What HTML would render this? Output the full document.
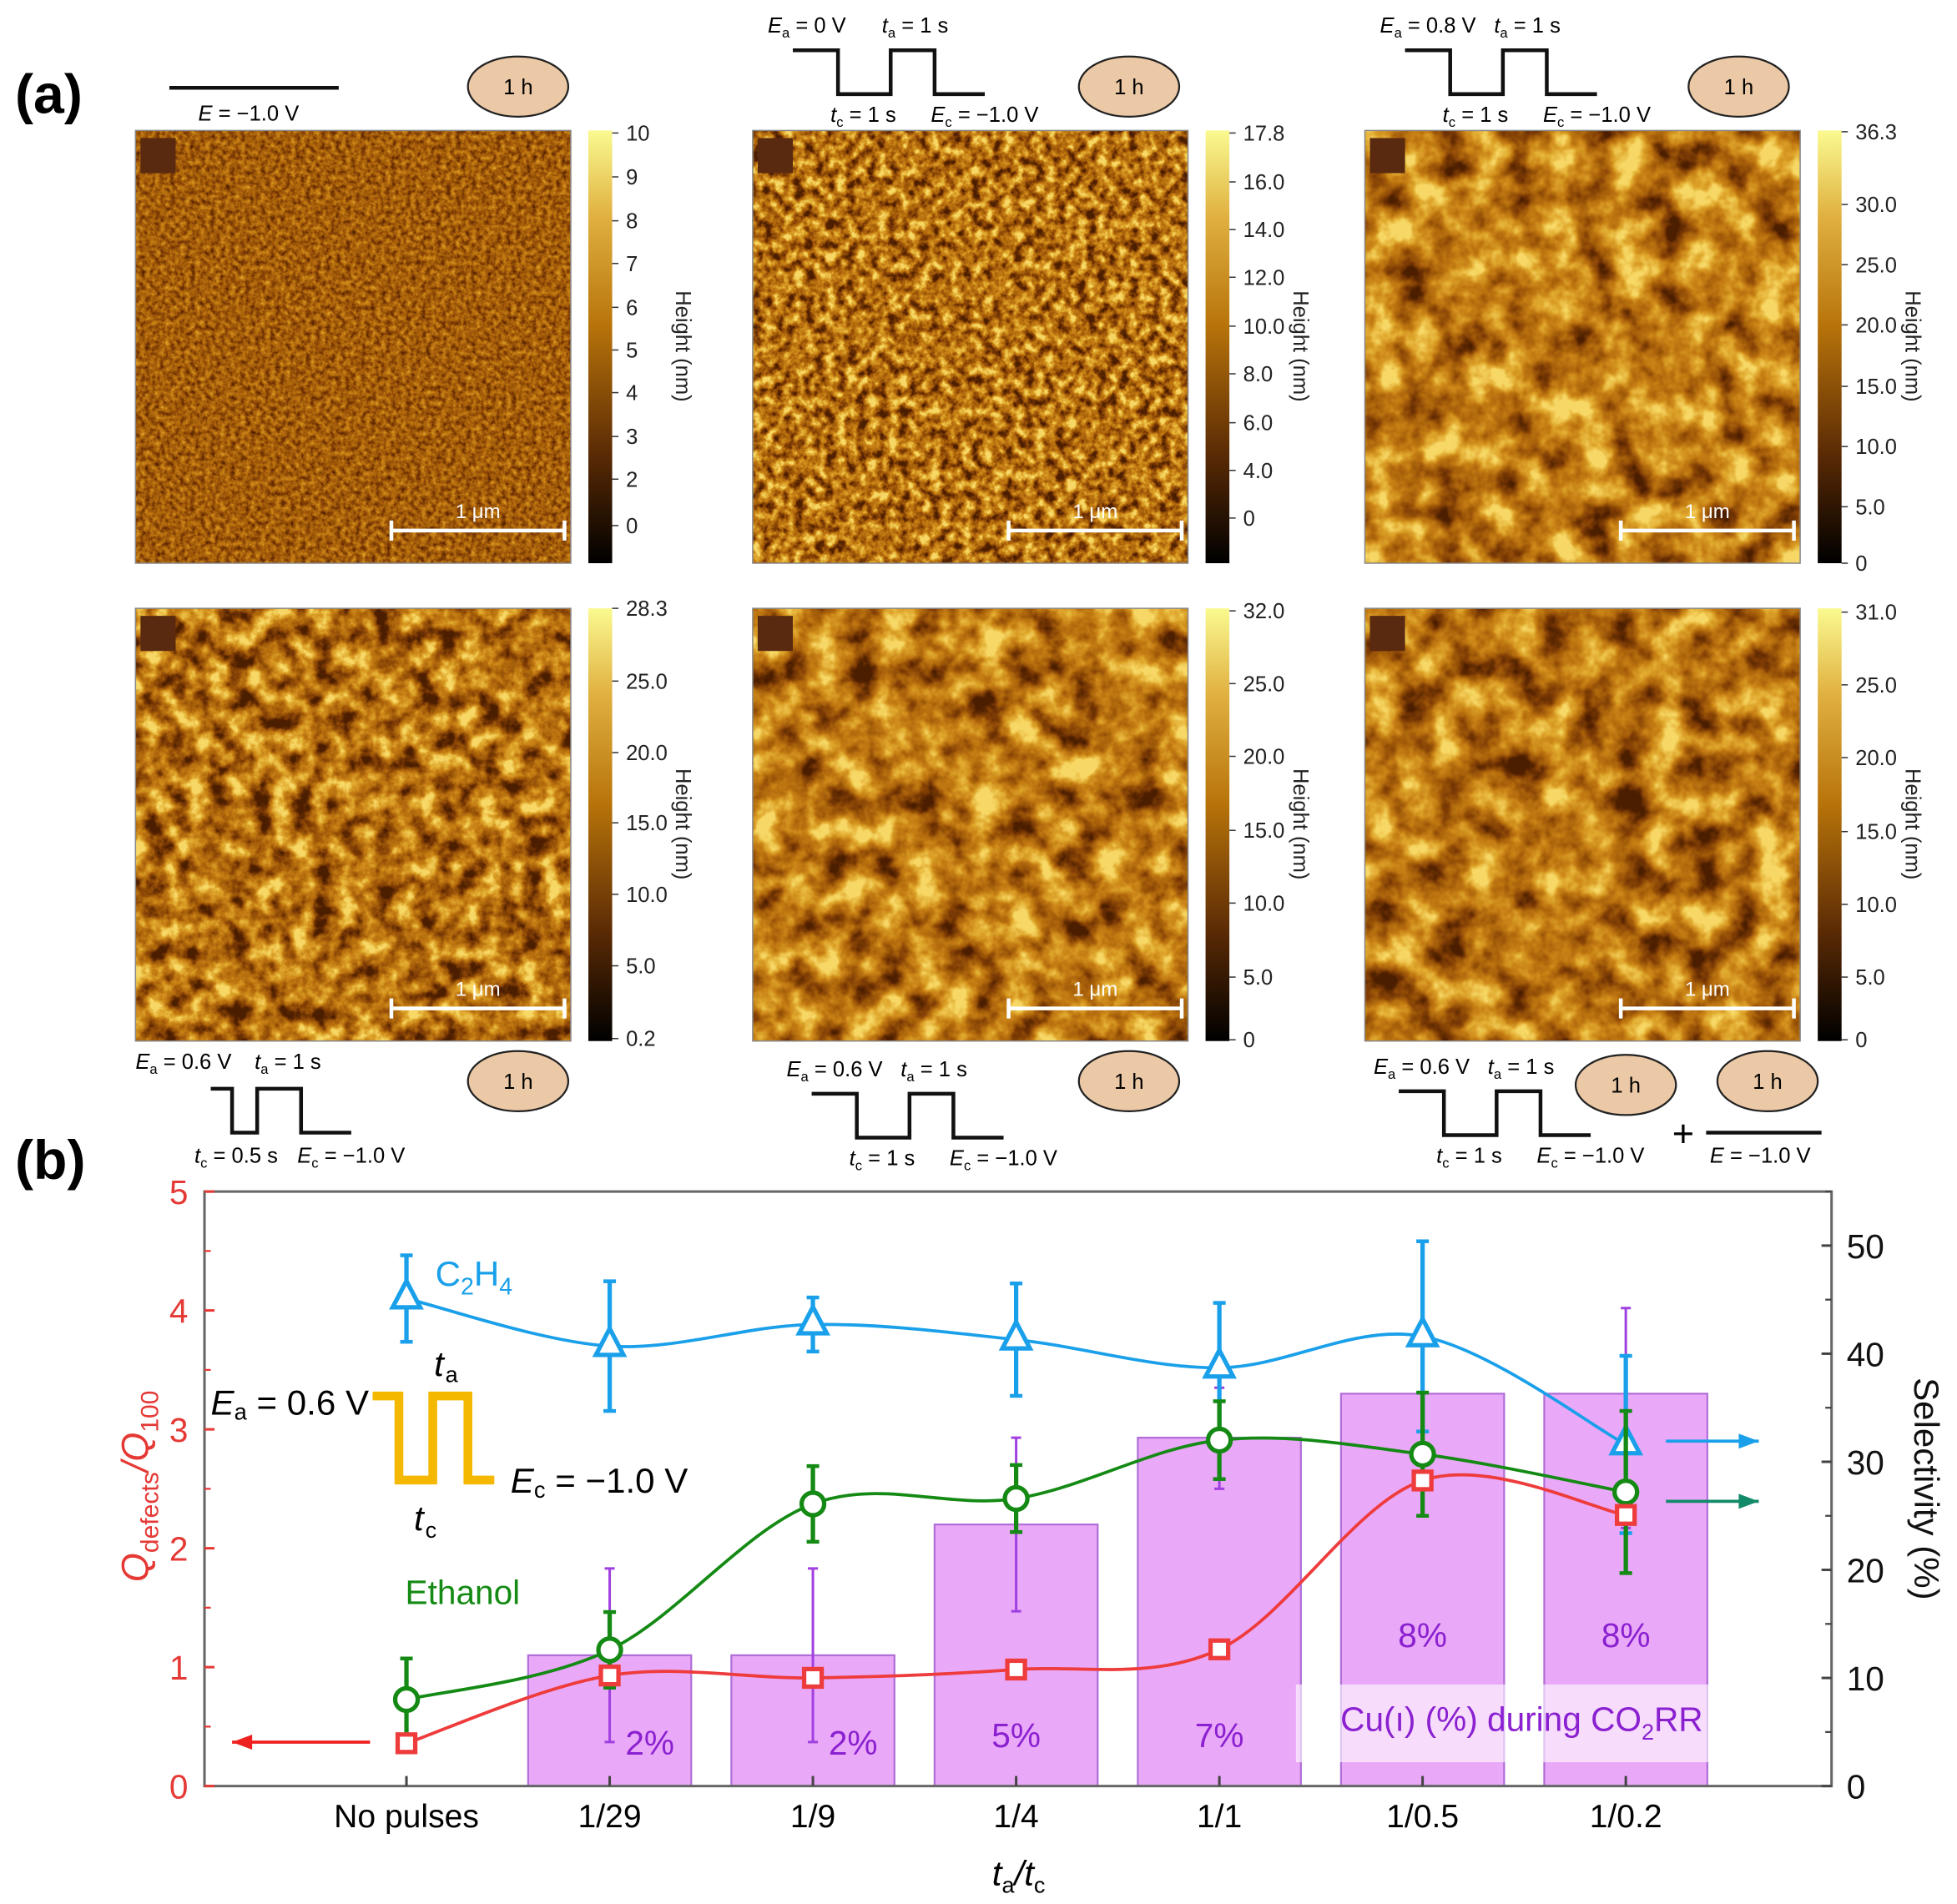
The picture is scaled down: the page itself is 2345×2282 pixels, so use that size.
<!DOCTYPE html>
<html><head><meta charset="utf-8"><style>
html,body{margin:0;padding:0;background:#fff;}
svg{display:block;font-family:"Liberation Sans",sans-serif;}
</style></head><body>
<svg id="fig" width="2345" height="2282" viewBox="0 0 1560 1518" xmlns="http://www.w3.org/2000/svg">
<defs>
<linearGradient id="cbar" x1="0" y1="1" x2="0" y2="0">
<stop offset="0" stop-color="#000"/><stop offset="0.25" stop-color="#5a2a05"/><stop offset="0.55" stop-color="#b8740a"/><stop offset="0.8" stop-color="#e0b040"/><stop offset="1" stop-color="#fafa90"/>
</linearGradient>
</defs>
<text x="12" y="90" font-size="44" font-weight="bold">(a)</text>
<text x="12" y="940" font-size="44" font-weight="bold">(b)</text>
<g id="afm"></g>
<g id="chart"></g>
</svg>
<script>
const NS='http://www.w3.org/2000/svg';
function mk(p,tag,attrs,txt){const e=document.createElementNS(NS,tag);for(const k in attrs)e.setAttribute(k,attrs[k]);if(txt!==undefined)e.textContent=txt;p.appendChild(e);return e;}
const afm=document.getElementById('afm');
const defs=document.querySelector('defs');

// ---- panel (a) AFM images ----
const imgX=[108,600,1088];
const imgY=[104,485];
const freqs=[0.25,0.12,0.035,0.06,0.04,0.035];
const tones=[[1.0,-0.12],[2.0,-0.5],[1.9,-0.38],[2.0,-0.5],[1.9,-0.4],[1.8,-0.38]];
const cbTicks=[
 [["10",106],["9",141],["8",176],["7",210],["6",245],["5",279],["4",313],["3",348],["2",382],["0",419]],
 [["17.8",106],["16.0",145],["14.0",183],["12.0",221],["10.0",260],["8.0",298],["6.0",337],["4.0",375],["0",413]],
 [["36.3",105],["30.0",163],["25.0",211],["20.0",259],["15.0",308],["10.0",356],["5.0",404],["0",449]],
 [["28.3",485],["25.0",543],["20.0",600],["15.0",656],["10.0",713],["5.0",770],["0.2",828]],
 [["32.0",487],["25.0",545],["20.0",603],["15.0",662],["10.0",720],["5.0",779],["0",829]],
 [["31.0",488],["25.0",546],["20.0",604],["15.0",663],["10.0",721],["5.0",779],["0",829]]];
for(let i=0;i<6;i++){
 const x=imgX[i%3], y=imgY[Math.floor(i/3)], w=347, h=345;
 const f=mk(defs,'filter',{id:'tex'+i,filterUnits:'userSpaceOnUse',x:x,y:y,width:w,height:h,'color-interpolation-filters':'sRGB'});
 mk(f,'feTurbulence',{type:'fractalNoise',baseFrequency:freqs[i],numOctaves:4,seed:i*7+3});
 const a=tones[i][0],b=tones[i][1];
 mk(f,'feColorMatrix',{type:'matrix',values:`${a} 0 0 0 ${b} ${a} 0 0 0 ${b} ${a} 0 0 0 ${b} 0 0 0 0 1`});
 const ct=mk(f,'feComponentTransfer',{});
 mk(ct,'feFuncR',{type:'table',tableValues:'0.3 0.5 0.66 0.78 0.88 0.97'});
 mk(ct,'feFuncG',{type:'table',tableValues:'0.12 0.24 0.38 0.5 0.66 0.85'});
 mk(ct,'feFuncB',{type:'table',tableValues:'0.0 0.02 0.04 0.08 0.18 0.4'});
 const g=mk(afm,'g',{});
 
 
 mk(g,'rect',{x:x,y:y,width:w,height:h,fill:'#a0640c',filter:`url(#tex${i})`});
 mk(g,'rect',{x:x,y:y,width:w,height:h,fill:'none',stroke:'#888','stroke-width':1});
 mk(g,'rect',{x:x+4,y:y+6,width:28,height:28,fill:'#5a2a10'});
 const sb=mk(g,'g',{});
 
 
 const sx=x+204,sy=y+319;
 mk(sb,'line',{x1:sx,y1:sy,x2:sx+138,y2:sy,stroke:'#fff','stroke-width':3});
 mk(sb,'line',{x1:sx,y1:sy-8,x2:sx,y2:sy+8,stroke:'#fff','stroke-width':3});
 mk(sb,'line',{x1:sx+138,y1:sy-8,x2:sx+138,y2:sy+8,stroke:'#fff','stroke-width':3});
 mk(sb,'text',{x:sx+69,y:sy-10,'font-size':16,fill:'#fff','text-anchor':'middle'},'1 μm');
 const cb=mk(afm,'g',{});
 
 
 const cx=x+361;
 mk(cb,'rect',{x:cx,y:y,width:19,height:h,fill:'url(#cbar)'});
 cbTicks[i].forEach(t=>{mk(cb,'line',{x1:cx+19,y1:t[1],x2:cx+24,y2:t[1],stroke:'#333'});mk(cb,'text',{x:cx+30,y:t[1]+6,'font-size':17,fill:'#222'},t[0]);});
 mk(cb,'text',{x:0,y:0,'font-size':17,fill:'#222','text-anchor':'middle',transform:`translate(${cx+70},${y+172}) rotate(90)`},'Height (nm)');
}
[[413,69],[900,69],[1386,69],[413,862],[900,862],[1296,865],[1409,862]].forEach(o=>{
 const g=mk(afm,'g',{});
 
 
 mk(g,'ellipse',{cx:o[0],cy:o[1],rx:40,ry:24,fill:'#ecc9a6',stroke:'#222','stroke-width':1.5});
 mk(g,'text',{x:o[0],y:o[1]+6,'font-size':17,'text-anchor':'middle'},'1 h');
});
function sub(p,x,y,main,s,rest,size){const t=mk(p,'text',{x:x,y:y,'font-size':size||17});mk(t,'tspan',{'font-style':'italic'},main);if(s){mk(t,'tspan',{'font-size':(size||17)*0.65,dy:4},s);mk(t,'tspan',{dy:-4},rest);}else mk(t,'tspan',{},rest);return t;}
function wave(p,pts){mk(p,'polyline',{points:pts,fill:'none',stroke:'#111','stroke-width':3});}
const wv=mk(afm,'g',{});


mk(wv,'line',{x1:135,y1:70,x2:270,y2:70,stroke:'#111','stroke-width':3});
sub(wv,158,96,'E','',' = −1.0 V');
function pulse(ox,oy,ea,tc){
 sub(wv,ox-20,oy-14,'E','a',' = '+ea);
 sub(wv,ox+71,oy-14,'t','a',' = 1 s');
 wave(wv,`${ox},${oy} ${ox+36},${oy} ${ox+36},${oy+35} ${ox+78},${oy+35} ${ox+78},${oy} ${ox+113},${oy} ${ox+113},${oy+35} ${ox+153},${oy+35}`);
 sub(wv,ox+30,oy+57,'t','c',' = '+tc);
 sub(wv,ox+110,oy+57,'E','c',' = −1.0 V');
}
pulse(632,40,'0 V','1 s');
pulse(1120,40,'0.8 V','1 s');
pulse(647,872,'0.6 V','1 s');
pulse(1115,870,'0.6 V','1 s');
sub(wv,108,852,'E','a',' = 0.6 V');
sub(wv,203,852,'t','a',' = 1 s');
wave(wv,'168,868 185,868 185,903 205,903 205,868 240,868 240,903 280,903');
sub(wv,155,927,'t','c',' = 0.5 s');
sub(wv,237,927,'E','c',' = −1.0 V');
mk(wv,'text',{x:1333,y:914,'font-size':30},'+');
mk(wv,'line',{x1:1360,y1:903,x2:1452,y2:903,stroke:'#111','stroke-width':3});
sub(wv,1363,927,'E','',' = −1.0 V');

// ---- panel (b) chart ----
const categories=["No pulses","1/29","1/9","1/4","1/1","1/0.5","1/0.2"];
const barVals=[null,1.1,1.1,2.2,2.93,3.3,3.3];
const barLabels=[null,"2%","2%","5%","7%","8%","8%"];
const barErrLo=[null,0.37,0.37,1.47,2.5,null,2.17];
const barErrHi=[null,1.83,1.83,2.93,3.35,null,4.02];
const qVals=[0.36,0.93,0.91,0.98,1.15,2.57,2.28];
const ethVals=[8.0,12.6,26.1,26.6,32.0,30.7,27.2];
const ethErr=[3.8,3.5,3.5,3.1,3.6,5.7,7.5];
const c2h4Vals=[45.1,40.7,42.7,41.3,38.7,41.6,31.6];
const c2h4Err=[4.0,6.0,2.5,5.2,6.0,8.8,8.2];
const leftTicks=[0,1,2,3,4,5];
const rightTicks=[0,10,20,30,40,50];

const PL=163,PR=1460,PT=950,PB=1424;
const yL=v=>PB-(v/5)*(PB-PT);
const yR=v=>PB-(v/55)*(PB-PT);
const xC=i=>324+i*162;
const ch=document.getElementById('chart');
barVals.forEach((v,i)=>{ if(v===null) return;
 const r=mk(ch,'rect',{x:xC(i)-65,y:yL(v),width:130,height:PB-yL(v),fill:'#eaa8f8',stroke:'#b070d8','stroke-width':1.5});
 
 
});
barErrLo.forEach((lo,i)=>{ if(lo===null) return;
 const g=mk(ch,'g',{stroke:'#a040e0','stroke-width':2});
 
 
 mk(g,'line',{x1:xC(i),y1:yL(lo),x2:xC(i),y2:yL(barErrHi[i])});
 mk(g,'line',{x1:xC(i)-4,y1:yL(lo),x2:xC(i)+4,y2:yL(lo)});
 mk(g,'line',{x1:xC(i)-4,y1:yL(barErrHi[i]),x2:xC(i)+4,y2:yL(barErrHi[i])});
});
const cuBox=mk(ch,'rect',{x:1033,y:1343,width:330,height:62,fill:'#fff','fill-opacity':0.6});


const cuT=mk(ch,'text',{x:1213,y:1380,'font-size':27,fill:'#8a20d0','text-anchor':'middle'});


mk(cuT,'tspan',{},'Cu(ı) (%) during CO');mk(cuT,'tspan',{'font-size':18,dy:7},'2');mk(cuT,'tspan',{dy:-7},'RR');
barLabels.forEach((l,i)=>{ if(!l) return;
 const yy = barVals[i]>3 ? 1313 : (i<=2?1399:1393);
 const t=mk(ch,'text',{x:xC(i)+(i<=2?32:0),y:yy,'font-size':27,fill:'#8a20d0','text-anchor':'middle'},l);
 
 
});
const ax=mk(ch,'g',{});


mk(ax,'rect',{x:PL,y:PT,width:PR-PL,height:PB-PT,fill:'none',stroke:'#666','stroke-width':2});
leftTicks.forEach(v=>{mk(ax,'line',{x1:PL,y1:yL(v),x2:PL+8,y2:yL(v),stroke:'#e53935','stroke-width':2});
 mk(ax,'text',{x:150,y:yL(v)+10,'font-size':27,fill:'#e53935','text-anchor':'end'},String(v));
 if(v<5) mk(ax,'line',{x1:PL,y1:yL(v+0.5),x2:PL+5,y2:yL(v+0.5),stroke:'#e53935','stroke-width':1.5});});
rightTicks.forEach(v=>{mk(ax,'line',{x1:PR,y1:yR(v),x2:PR-8,y2:yR(v),stroke:'#444','stroke-width':2});
 mk(ax,'text',{x:1472,y:yR(v)+10,'font-size':27,fill:'#111'},String(v));
 mk(ax,'line',{x1:PR,y1:yR(v+5),x2:PR-5,y2:yR(v+5),stroke:'#444','stroke-width':1.5});});
categories.forEach((c,i)=>{mk(ax,'line',{x1:xC(i),y1:PB,x2:xC(i),y2:PB-8,stroke:'#444','stroke-width':2});
 mk(ax,'text',{x:xC(i),y:1457,'font-size':26,'text-anchor':'middle'},c);});
const xl=mk(ch,'text',{x:812,y:1503,'font-size':28,'text-anchor':'middle'});


mk(xl,'tspan',{'font-style':'italic'},'t');mk(xl,'tspan',{'font-size':18,dy:6},'a');mk(xl,'tspan',{dy:-6,'font-style':'italic'},'/t');mk(xl,'tspan',{'font-size':18,dy:6},'c');
const yl=mk(ch,'text',{transform:'translate(118,1185) rotate(-90)','font-size':30,fill:'#e53935','text-anchor':'middle'});


mk(yl,'tspan',{'font-style':'italic'},'Q');mk(yl,'tspan',{'font-size':20,dy:8},'defects');mk(yl,'tspan',{dy:-8,'font-style':'italic'},'/Q');mk(yl,'tspan',{'font-size':20,dy:8},'100');
const yr=mk(ch,'text',{transform:'translate(1526,1187) rotate(90)','font-size':28,fill:'#111','text-anchor':'middle'},'Selectivity (%)');



function smooth(pts){let d=`M${pts[0][0]},${pts[0][1]}`;for(let i=0;i<pts.length-1;i++){const p0=pts[i-1]||pts[i],p1=pts[i],p2=pts[i+1],p3=pts[i+2]||p2;
 d+=` C${p1[0]+(p2[0]-p0[0])/6},${p1[1]+(p2[1]-p0[1])/6} ${p2[0]-(p3[0]-p1[0])/6},${p2[1]-(p3[1]-p1[1])/6} ${p2[0]},${p2[1]}`;}return d;}
function series(name,vals,errs,yf,color,marker){
 const g=mk(ch,'g',{});
 
 
 const pts=vals.map((v,i)=>[xC(i),yf(v)]);
 mk(g,'path',{d:smooth(pts),fill:'none',stroke:color,'stroke-width':2.5});
 vals.forEach((v,i)=>{
  if(errs){const lo=yf(v-errs[i]),hi=yf(v+errs[i]);
   mk(g,'line',{x1:xC(i),y1:lo,x2:xC(i),y2:hi,stroke:color,'stroke-width':3.5});
   mk(g,'line',{x1:xC(i)-5,y1:lo,x2:xC(i)+5,y2:lo,stroke:color,'stroke-width':3});
   mk(g,'line',{x1:xC(i)-5,y1:hi,x2:xC(i)+5,y2:hi,stroke:color,'stroke-width':3});}
  const X=xC(i),Y=yf(v);let m;
  if(marker==='sq') m=mk(g,'rect',{x:X-7,y:Y-7,width:14,height:14,fill:'#fff',stroke:color,'stroke-width':3.5});
  else if(marker==='ci') m=mk(g,'circle',{cx:X,cy:Y,r:9,fill:'#fff',stroke:color,'stroke-width':3.5});
  else m=mk(g,'polygon',{points:`${X},${Y-14} ${X-11},${Y+7} ${X+11},${Y+7}`,fill:'#fff',stroke:color,'stroke-width':3.5});
  
  
 });
}
series('c2h4',c2h4Vals,c2h4Err,yR,'#1aa0ea','tri');
series('ethanol',ethVals,ethErr,yR,'#148a14','ci');
series('q-ratio',qVals,null,yL,'#ee3b3b','sq');
function arrow(x1,x2,y,color,name){const g=mk(ch,'g',{});
 
 
 mk(g,'line',{x1:x1,y1:y,x2:x2,y2:y,stroke:color,'stroke-width':2.5});
 const d=x2>x1?-1:1;mk(g,'polygon',{points:`${x2},${y} ${x2+d*16},${y-6} ${x2+d*16},${y+6}`,fill:color});}
arrow(295,185,1389,'#ee2020','left-axis-arrow');
arrow(1328,1402,1149,'#1aa0ea','c2h4-arrow');
arrow(1328,1402,1197,'#138a6a','ethanol-arrow');
const ins=mk(ch,'g',{});


mk(ins,'polyline',{points:'297,1113 318,1113 318,1180 345,1180 345,1113 373,1113 373,1180 394,1180',fill:'none',stroke:'#f5b800','stroke-width':7});
sub(ins,168,1128,'E','a',' = 0.6 V',28);
sub(ins,407,1190,'E','c',' = −1.0 V',28);
sub(ins,346,1097,'t','','',28);mk(ins,'text',{x:355,y:1102,'font-size':18},'a');
sub(ins,330,1220,'t','','',28);mk(ins,'text',{x:339,y:1226,'font-size':18},'c');
const c2=mk(ch,'text',{x:347,y:1025,'font-size':28,fill:'#1aa0ea'});


mk(c2,'tspan',{},'C');mk(c2,'tspan',{'font-size':19,dy:7},'2');mk(c2,'tspan',{dy:-7},'H');mk(c2,'tspan',{'font-size':19,dy:7},'4');
const et=mk(ch,'text',{x:323,y:1279,'font-size':27,fill:'#148a14'},'Ethanol');


</script>
</body></html>
